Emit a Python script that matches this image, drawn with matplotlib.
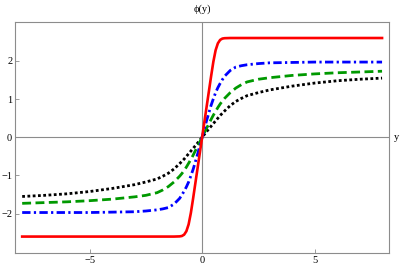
import matplotlib
matplotlib.use("Agg")
import matplotlib.pyplot as plt

plt.rcParams['font.family'] = ['Liberation Serif', 'DejaVu Serif']

# values
y_vals = [-8.0, -7.0, -6.0, -5.0, -4.0, -3.0, -2.5, -2.0, -1.75, -1.5, -1.25, -1.0, -0.9, -0.8, -0.7, -0.6, -0.5, -0.4, -0.3, -0.2, -0.1,
          0.0, 0.1, 0.2, 0.3, 0.4, 0.5, 0.6, 0.7, 0.8, 0.9, 1.0, 1.25, 1.5, 1.75, 2.0, 2.5, 3.0, 4.0, 5.0, 6.0, 7.0, 8.0]

phi_red = [-2.60, -2.60, -2.60, -2.60, -2.60, -2.60, -2.60, -2.60, -2.60, -2.60, -2.60, -2.595, -2.585, -2.55, -2.46, -2.28, -1.98, -1.60, -1.20, -0.80, -0.40,
           0.0, 0.40, 0.80, 1.20, 1.60, 1.98, 2.28, 2.46, 2.55, 2.585, 2.595, 2.60, 2.60, 2.60, 2.60, 2.60, 2.60, 2.60, 2.60, 2.60, 2.60, 2.60]

phi_blue = [-1.97, -1.97, -1.97, -1.97, -1.96, -1.95, -1.93, -1.90, -1.875, -1.84, -1.75, -1.60, -1.51, -1.41, -1.30, -1.17, -1.01, -0.84, -0.64, -0.44, -0.22,
            0.0, 0.22, 0.44, 0.64, 0.84, 1.01, 1.17, 1.30, 1.41, 1.51, 1.60, 1.75, 1.84, 1.875, 1.90, 1.93, 1.95, 1.96, 1.97, 1.97, 1.97, 1.97]

phi_green = [-1.73, -1.71, -1.69, -1.66, -1.62, -1.56, -1.52, -1.45, -1.38, -1.29, -1.17, -1.02, -0.95, -0.87, -0.78, -0.68, -0.58, -0.47, -0.35, -0.24, -0.12,
             0.0, 0.12, 0.24, 0.35, 0.47, 0.58, 0.68, 0.78, 0.87, 0.95, 1.02, 1.17, 1.29, 1.38, 1.45, 1.52, 1.56, 1.62, 1.66, 1.69, 1.71, 1.73]

phi_black = [-1.55, -1.52, -1.48, -1.42, -1.34, -1.24, -1.17, -1.09, -1.02, -0.94, -0.83, -0.69, -0.63, -0.57, -0.50, -0.43, -0.36, -0.29, -0.22, -0.15, -0.075,
             0.0, 0.075, 0.15, 0.22, 0.29, 0.36, 0.43, 0.50, 0.57, 0.63, 0.69, 0.83, 0.94, 1.02, 1.09, 1.17, 1.24, 1.34, 1.42, 1.48, 1.52, 1.55]

x_ticks = [-5, 0, 5]
y_ticks = [-2, -1, 0, 1, 2]

fig = plt.figure(figsize=(4.05, 2.68), dpi=100)
ax = fig.add_axes([0.037, 0.056, 0.923, 0.862])

grey = '#8c8c8c'
ax.axhline(0, color=grey, lw=0.8, zorder=1)
ax.axvline(0, color=grey, lw=0.8, zorder=1)

ax.plot(y_vals, phi_black, color='black', lw=2.0, linestyle=(0, (1.0, 0.9)), zorder=2)
ax.plot(y_vals, phi_green, color='#009900', lw=2.0, linestyle=(0, (3.2, 1.6)), zorder=3)
ax.plot(y_vals, phi_blue, color='#0000ff', lw=2.0, linestyle=(0, (3.0, 1.2, 0.8, 1.2)), zorder=4)
ax.plot(y_vals, phi_red, color='#ff0000', lw=1.9, linestyle='-', zorder=5)

ax.set_xlim(-8.32, 8.3)
ax.set_ylim(-3.03, 3.02)
ax.set_xticks(x_ticks)
ax.set_yticks(y_ticks)
ax.set_xticklabels(['\u22125', '0', '5'])
ax.set_yticklabels(['\u22122', '\u22121', '0', '1', '2'])
ax.tick_params(direction='in', length=3, width=0.6, color=grey, labelsize=7.5, pad=2)

for s in ax.spines.values():
    s.set_color(grey)
    s.set_linewidth(0.8)

fig.text(0.5, 0.965, '\u03d5(y)', ha='center', va='center', fontsize=7.5)
fig.text(0.98, 0.488, 'y', ha='center', va='center', fontsize=7.5)

fig.savefig('out.png', dpi=100)
